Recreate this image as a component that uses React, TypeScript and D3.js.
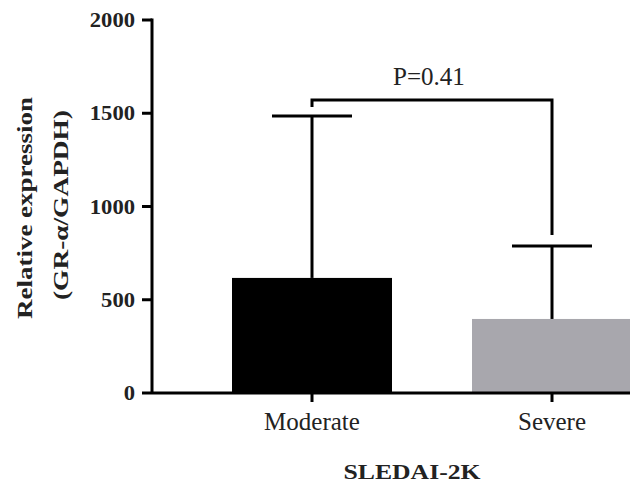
import * as d3 from "d3";

const categories = ["Moderate", "Severe"];
const means = [617, 397];
const errTop = [1485, 788];
const barColors = ["#000000", "#a8a7ad"];
const yTicks = [0, 500, 1000, 1500, 2000];
const pLabel = "P=0.41";
// bracket: level of the bar, and where each leg ends
const bracketLevel = 1571;
const bracketEnds = [1533, 847];

const W = 630;
const H = 483;
const FONT = "'Liberation Serif', 'Times New Roman', serif";

export default function App() {
  const axisX = 152;
  const axisY = 393;

  const x = d3.scaleBand()
    .domain(categories)
    .range([axisX, axisX + 560])
    .paddingInner(1 / 3)
    .paddingOuter(1 / 3);

  const y = d3.scaleLinear().domain([0, 2000]).range([axisY, 20]);

  const bw = x.bandwidth();
  const cx = (c: string) => (x(c) ?? 0) + bw / 2;

  const bracket = d3.line()([
    [cx(categories[0]), y(bracketEnds[0])],
    [cx(categories[0]), y(bracketLevel)],
    [cx(categories[1]), y(bracketLevel)],
    [cx(categories[1]), y(bracketEnds[1])],
  ]);

  return (
    <svg width={W} height={H} style={{ position: "absolute", left: 0, top: 0, background: "#fff" }}>
      {/* bars */}
      {categories.map((c, i) => (
        <rect key={c} x={x(c)} y={y(means[i])} width={bw} height={y(0) - y(means[i])} fill={barColors[i]} />
      ))}

      {/* error bars (upper only) */}
      {categories.map((c, i) => (
        <g key={c} stroke="#000" strokeWidth={3}>
          <line x1={cx(c)} x2={cx(c)} y1={y(means[i])} y2={y(errTop[i])} />
          <line x1={cx(c) - bw / 4} x2={cx(c) + bw / 4} y1={y(errTop[i])} y2={y(errTop[i])} />
        </g>
      ))}

      {/* significance bracket */}
      <path d={bracket ?? ""} fill="none" stroke="#000" strokeWidth={3} />
      <text
        x={(cx(categories[0]) + cx(categories[1])) / 2 - 3}
        y={y(bracketLevel) - 15}
        textAnchor="middle"
        fontFamily={FONT}
        fontSize={25}
        fill="#222"
      >
        {pLabel}
      </text>

      {/* y axis */}
      <line x1={axisX} x2={axisX} y1={y(2000) - 1.5} y2={axisY} stroke="#000" strokeWidth={3} />
      {yTicks.map(t => (
        <g key={t}>
          <line x1={axisX - 10} x2={axisX} y1={y(t)} y2={y(t)} stroke="#000" strokeWidth={3} />
          <text
            x={axisX - 17}
            y={y(t)}
            dy="0.35em"
            textAnchor="end"
            fontFamily={FONT}
            fontSize={20}
            fontWeight="bold"
            fill="#222"
            textLength={String(t).length * 11.3}
            lengthAdjust="spacingAndGlyphs"
          >
            {t}
          </text>
        </g>
      ))}

      {/* x axis */}
      <line x1={axisX} x2={W} y1={axisY} y2={axisY} stroke="#000" strokeWidth={3} />
      {categories.map(c => (
        <g key={c}>
          <line x1={cx(c)} x2={cx(c)} y1={axisY} y2={axisY + 9} stroke="#000" strokeWidth={3} />
          <text x={cx(c)} y={430} textAnchor="middle" fontFamily={FONT} fontSize={25} fill="#222">
            {c}
          </text>
        </g>
      ))}

      {/* axis titles */}
      <text
        x={412}
        y={479}
        textAnchor="middle"
        fontFamily={FONT}
        fontSize={22}
        fontWeight="bold"
        fill="#222"
        textLength={137}
        lengthAdjust="spacingAndGlyphs"
      >
        SLEDAI-2K
      </text>
      <text
        transform="translate(32,208) rotate(-90)"
        textAnchor="middle"
        fontFamily={FONT}
        fontSize={21}
        fontWeight="bold"
        fill="#222"
        textLength={222}
        lengthAdjust="spacingAndGlyphs"
      >
        Relative expression
      </text>
      <text
        transform="translate(68,205) rotate(-90)"
        textAnchor="middle"
        fontFamily={FONT}
        fontSize={21}
        fontWeight="bold"
        fill="#222"
        textLength={190}
        lengthAdjust="spacingAndGlyphs"
      >
        (GR-α/GAPDH)
      </text>
    </svg>
  );
}
